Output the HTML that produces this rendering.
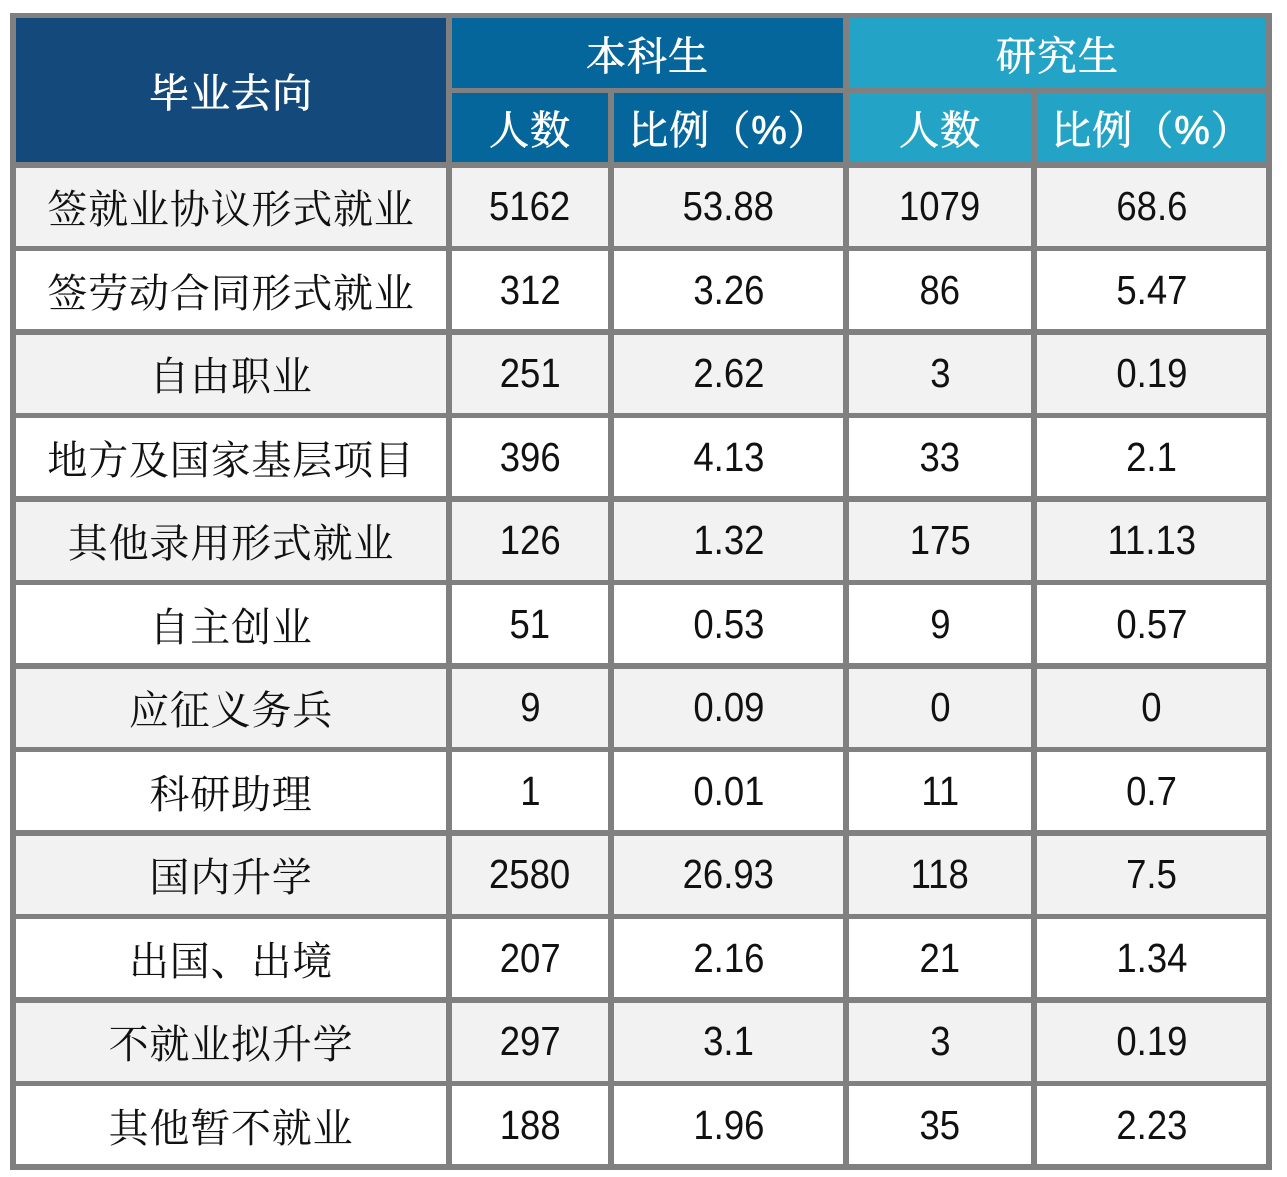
<!DOCTYPE html>
<html>
<head>
<meta charset="utf-8">
<style>
  html, body { margin:0; padding:0; background:#ffffff; }
  body { width:1287px; height:1177px; position:relative; overflow:hidden; }
  .frame { position:absolute; left:10px; top:13px; width:1262px; height:1157px; background:#808080; }
  .c { position:absolute; display:flex; align-items:center; justify-content:center; box-sizing:border-box; }
  .hd { color:#ffffff; font-family:"Liberation Sans","Noto Serif CJK SC",serif; font-size:40px; letter-spacing:1px; -webkit-text-stroke:0.7px #ffffff; }
  .navy { background:#134a7b; }
  .blue { background:#04669b; }
  .cyan { background:#23a3c5; }
  .lab { font-family:"Noto Serif CJK SC","Liberation Serif",serif; font-size:40px; letter-spacing:0.8px; color:#111; }
  .num { font-family:"Liberation Sans",sans-serif; font-size:41px; color:#111; }
  .num span { display:inline-block; transform:scaleX(0.89); }
  .g { background:#f2f2f2; }
  .w { background:#ffffff; }
</style>
</head>
<body>
<div class="frame"></div>

<!-- header -->
<div class="c hd navy" style="left:16px;top:18px;width:430px;height:144px;">毕业去向</div>
<div class="c hd blue" style="left:452px;top:18px;width:391px;height:70px;">本科生</div>
<div class="c hd cyan" style="left:849px;top:18px;width:417px;height:70px;">研究生</div>
<div class="c hd blue" style="left:452px;top:93px;width:156px;height:69px;">人数</div>
<div class="c hd blue" style="left:614px;top:93px;width:229px;height:69px;">比例（%）</div>
<div class="c hd cyan" style="left:849px;top:93px;width:182px;height:69px;">人数</div>
<div class="c hd cyan" style="left:1037px;top:93px;width:229px;height:69px;">比例（%）</div>

<!-- row 1 -->
<div class="c lab g" style="left:16px;top:167.5px;width:430px;height:78px;">签就业协议形式就业</div>
<div class="c num g" style="left:452px;top:167.5px;width:156px;height:78px;"><span>5162</span></div>
<div class="c num g" style="left:614px;top:167.5px;width:229px;height:78px;"><span>53.88</span></div>
<div class="c num g" style="left:849px;top:167.5px;width:182px;height:78px;"><span>1079</span></div>
<div class="c num g" style="left:1037px;top:167.5px;width:229px;height:78px;"><span>68.6</span></div>

<!-- row 2 -->
<div class="c lab w" style="left:16px;top:251px;width:430px;height:78px;">签劳动合同形式就业</div>
<div class="c num w" style="left:452px;top:251px;width:156px;height:78px;"><span>312</span></div>
<div class="c num w" style="left:614px;top:251px;width:229px;height:78px;"><span>3.26</span></div>
<div class="c num w" style="left:849px;top:251px;width:182px;height:78px;"><span>86</span></div>
<div class="c num w" style="left:1037px;top:251px;width:229px;height:78px;"><span>5.47</span></div>

<!-- row 3 -->
<div class="c lab g" style="left:16px;top:334.5px;width:430px;height:78px;">自由职业</div>
<div class="c num g" style="left:452px;top:334.5px;width:156px;height:78px;"><span>251</span></div>
<div class="c num g" style="left:614px;top:334.5px;width:229px;height:78px;"><span>2.62</span></div>
<div class="c num g" style="left:849px;top:334.5px;width:182px;height:78px;"><span>3</span></div>
<div class="c num g" style="left:1037px;top:334.5px;width:229px;height:78px;"><span>0.19</span></div>

<!-- row 4 -->
<div class="c lab w" style="left:16px;top:418px;width:430px;height:78px;">地方及国家基层项目</div>
<div class="c num w" style="left:452px;top:418px;width:156px;height:78px;"><span>396</span></div>
<div class="c num w" style="left:614px;top:418px;width:229px;height:78px;"><span>4.13</span></div>
<div class="c num w" style="left:849px;top:418px;width:182px;height:78px;"><span>33</span></div>
<div class="c num w" style="left:1037px;top:418px;width:229px;height:78px;"><span>2.1</span></div>

<!-- row 5 -->
<div class="c lab g" style="left:16px;top:501.5px;width:430px;height:78px;">其他录用形式就业</div>
<div class="c num g" style="left:452px;top:501.5px;width:156px;height:78px;"><span>126</span></div>
<div class="c num g" style="left:614px;top:501.5px;width:229px;height:78px;"><span>1.32</span></div>
<div class="c num g" style="left:849px;top:501.5px;width:182px;height:78px;"><span>175</span></div>
<div class="c num g" style="left:1037px;top:501.5px;width:229px;height:78px;"><span>11.13</span></div>

<!-- row 6 -->
<div class="c lab w" style="left:16px;top:585px;width:430px;height:78px;">自主创业</div>
<div class="c num w" style="left:452px;top:585px;width:156px;height:78px;"><span>51</span></div>
<div class="c num w" style="left:614px;top:585px;width:229px;height:78px;"><span>0.53</span></div>
<div class="c num w" style="left:849px;top:585px;width:182px;height:78px;"><span>9</span></div>
<div class="c num w" style="left:1037px;top:585px;width:229px;height:78px;"><span>0.57</span></div>

<!-- row 7 -->
<div class="c lab g" style="left:16px;top:668.5px;width:430px;height:78px;">应征义务兵</div>
<div class="c num g" style="left:452px;top:668.5px;width:156px;height:78px;"><span>9</span></div>
<div class="c num g" style="left:614px;top:668.5px;width:229px;height:78px;"><span>0.09</span></div>
<div class="c num g" style="left:849px;top:668.5px;width:182px;height:78px;"><span>0</span></div>
<div class="c num g" style="left:1037px;top:668.5px;width:229px;height:78px;"><span>0</span></div>

<!-- row 8 -->
<div class="c lab w" style="left:16px;top:752px;width:430px;height:78px;">科研助理</div>
<div class="c num w" style="left:452px;top:752px;width:156px;height:78px;"><span>1</span></div>
<div class="c num w" style="left:614px;top:752px;width:229px;height:78px;"><span>0.01</span></div>
<div class="c num w" style="left:849px;top:752px;width:182px;height:78px;"><span>11</span></div>
<div class="c num w" style="left:1037px;top:752px;width:229px;height:78px;"><span>0.7</span></div>

<!-- row 9 -->
<div class="c lab g" style="left:16px;top:835.5px;width:430px;height:78px;">国内升学</div>
<div class="c num g" style="left:452px;top:835.5px;width:156px;height:78px;"><span>2580</span></div>
<div class="c num g" style="left:614px;top:835.5px;width:229px;height:78px;"><span>26.93</span></div>
<div class="c num g" style="left:849px;top:835.5px;width:182px;height:78px;"><span>118</span></div>
<div class="c num g" style="left:1037px;top:835.5px;width:229px;height:78px;"><span>7.5</span></div>

<!-- row 10 -->
<div class="c lab w" style="left:16px;top:919px;width:430px;height:78px;">出国、出境</div>
<div class="c num w" style="left:452px;top:919px;width:156px;height:78px;"><span>207</span></div>
<div class="c num w" style="left:614px;top:919px;width:229px;height:78px;"><span>2.16</span></div>
<div class="c num w" style="left:849px;top:919px;width:182px;height:78px;"><span>21</span></div>
<div class="c num w" style="left:1037px;top:919px;width:229px;height:78px;"><span>1.34</span></div>

<!-- row 11 -->
<div class="c lab g" style="left:16px;top:1002.5px;width:430px;height:78px;">不就业拟升学</div>
<div class="c num g" style="left:452px;top:1002.5px;width:156px;height:78px;"><span>297</span></div>
<div class="c num g" style="left:614px;top:1002.5px;width:229px;height:78px;"><span>3.1</span></div>
<div class="c num g" style="left:849px;top:1002.5px;width:182px;height:78px;"><span>3</span></div>
<div class="c num g" style="left:1037px;top:1002.5px;width:229px;height:78px;"><span>0.19</span></div>

<!-- row 12 -->
<div class="c lab w" style="left:16px;top:1086px;width:430px;height:78px;">其他暂不就业</div>
<div class="c num w" style="left:452px;top:1086px;width:156px;height:78px;"><span>188</span></div>
<div class="c num w" style="left:614px;top:1086px;width:229px;height:78px;"><span>1.96</span></div>
<div class="c num w" style="left:849px;top:1086px;width:182px;height:78px;"><span>35</span></div>
<div class="c num w" style="left:1037px;top:1086px;width:229px;height:78px;"><span>2.23</span></div>

</body>
</html>
